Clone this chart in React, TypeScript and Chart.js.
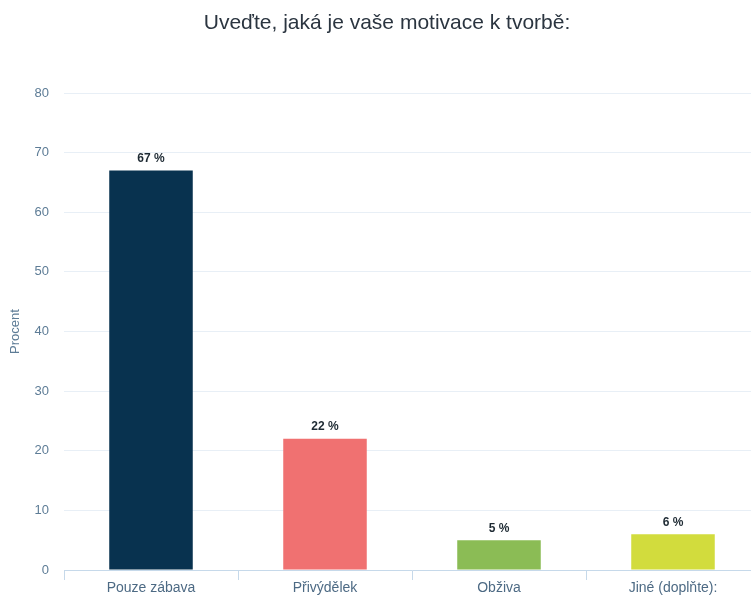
import React, { useEffect, useRef } from "react";
import { Chart, registerables } from "chart.js";

Chart.register(...registerables);

const categories = ["Pouze zábava", "Přivýdělek", "Obživa", "Jiné (doplňte):"];
const values = [67, 22, 5, 6];
const valueLabels = ["67 %", "22 %", "5 %", "6 %"];
const barColors = ["#08324f", "#f07171", "#8bbc55", "#d2dc3d"];
const yTicks = [0, 10, 20, 30, 40, 50, 60, 70, 80];
const titleText = "Uveďte, jaká je vaše motivace k tvorbě:";
const yTitle = "Procent";

const FONT = "'Liberation Sans', Arial, sans-serif";

const valueLabelPlugin = {
  id: "valueLabels",
  afterDatasetsDraw(chart: any) {
    const ctx = chart.ctx;
    const meta = chart.getDatasetMeta(0);
    ctx.save();
    ctx.font = "bold 12px " + FONT;
    ctx.fillStyle = "#1e2a33";
    ctx.textAlign = "center";
    ctx.textBaseline = "bottom";
    meta.data.forEach((bar: any, i: number) => {
      ctx.fillText(valueLabels[i], bar.x, bar.y - 6);
    });
    ctx.restore();
  },
};

const titlePlugin = {
  id: "customTitle",
  afterDraw(chart: any) {
    const ctx = chart.ctx;
    ctx.save();
    ctx.font = "21px " + FONT;
    ctx.fillStyle = "#2b3540";
    ctx.textAlign = "center";
    ctx.textBaseline = "middle";
    ctx.fillText(titleText, 387, 23);
    ctx.restore();
  },
};

export default function App() {
  const ref = useRef<HTMLCanvasElement | null>(null);
  useEffect(() => {
    if (!ref.current) return;
    const chart = new Chart(ref.current, {
      type: "bar",
      data: {
        labels: categories,
        datasets: [
          {
            data: values,
            backgroundColor: barColors,
            borderWidth: 0,
            categoryPercentage: 1,
            barPercentage: 0.48,
          },
        ],
      },
      options: {
        animation: false,
        responsive: false,
        maintainAspectRatio: false,
        layout: { padding: { left: 0, right: 14, top: 93, bottom: 0 } },
        plugins: {
          legend: { display: false },
          tooltip: { enabled: false },
          title: { display: false },
        },
        scales: {
          x: {
            afterFit(scale: any) {
              scale.height = 25;
            },
            grid: {
              display: true,
              drawOnChartArea: false,
              drawTicks: true,
              tickLength: 10,
              color: "#c6d9ea",
              offset: true,
            },
            border: { display: true, color: "#c6d9ea" },
            ticks: {
              color: "#4d6a84",
              font: { family: FONT, size: 14 },
              padding: 0,
            },
          },
          y: {
            min: 0,
            max: 80,
            afterBuildTicks(scale: any) {
              scale.ticks = yTicks.map((v) => ({ value: v }));
            },
            afterFit(scale: any) {
              scale.width = 64;
            },
            grid: { color: "#e8eff6", drawTicks: false },
            border: { display: false },
            ticks: {
              color: "#5d7c96",
              font: { family: FONT, size: 13 },
              padding: 15,
            },
            title: {
              display: true,
              text: yTitle,
              color: "#5d7c96",
              font: { family: FONT, size: 13 },
              padding: { top: 8, bottom: 0 },
            },
          },
        },
      },
      plugins: [valueLabelPlugin, titlePlugin],
    });
    return () => chart.destroy();
  }, []);
  return (
    <div
      style={{
        position: "fixed",
        left: 0,
        top: 0,
        width: 751,
        height: 595,
        overflow: "hidden",
        background: "#ffffff",
      }}
    >
      <canvas ref={ref} width={774} height={595} style={{ display: "block" }} />
    </div>
  );
}
